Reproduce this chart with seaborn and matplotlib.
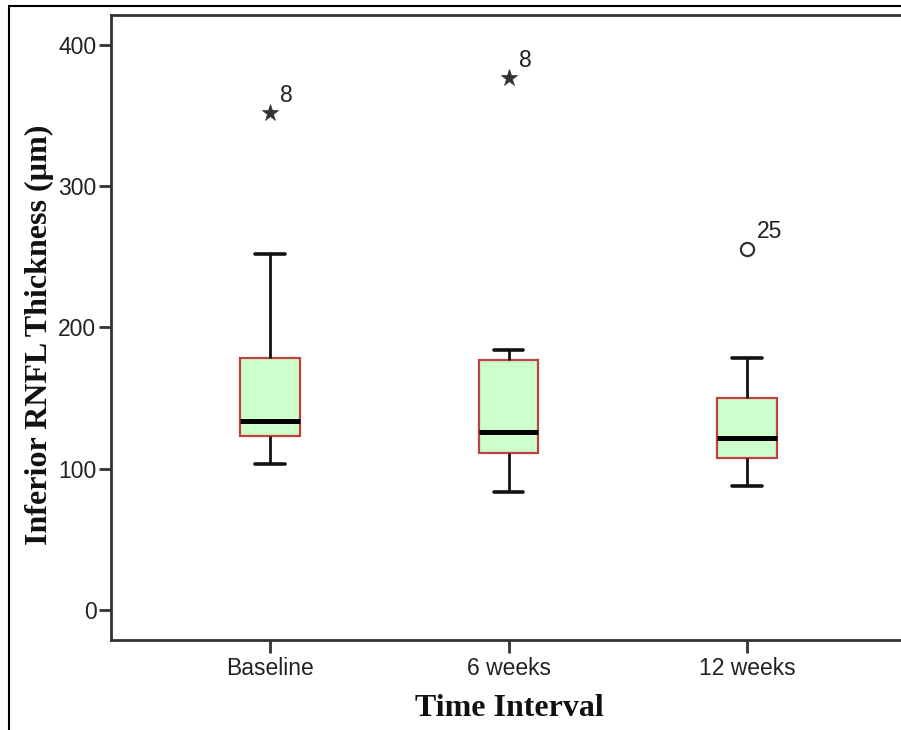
import matplotlib
matplotlib.use("Agg")
import matplotlib.pyplot as plt
from matplotlib.patches import Rectangle
import seaborn as sns
import pandas as pd

# ---- data ----
categories = ["Baseline", "6 weeks", "12 weeks"]
whisker_low = [103.4, 83.5, 88.0]
q1 = [123.2, 111.0, 107.8]
median = [133.8, 126.0, 121.8]
q3 = [178.4, 177.0, 149.9]
whisker_high = [252.0, 184.0, 178.6]

outlier_cat = ["Baseline", "6 weeks", "12 weeks"]
outlier_val = [351.9, 376.6, 255.4]
outlier_label = ["8", "8", "25"]
outlier_extreme = [True, True, False]

y_ticks = [0, 100, 200, 300, 400]
x_title = "Time Interval"
y_title = "Inferior RNFL Thickness (µm)"

# five-number summaries -> long table (whiskers at min/max with whis=(0,100))
rows = []
for i, c in enumerate(categories):
    for v in (whisker_low[i], q1[i], median[i], q3[i], whisker_high[i]):
        rows.append({"time": c, "value": v})
df = pd.DataFrame(rows)

sns.set_style("white")
plt.rcParams["font.family"] = ["Liberation Sans", "DejaVu Sans"]

W, H = 901, 730
fig = plt.figure(figsize=(W / 100, H / 100), dpi=100)
ax_left, ax_right, ax_top, ax_bottom = 111, 906, 15, 640
ax = fig.add_axes([ax_left / W, 1 - ax_bottom / H,
                   (ax_right - ax_left) / W, (ax_bottom - ax_top) / H])

fill = "#ccffcc"
edge = "#c04040"
sns.boxplot(data=df, x="time", y="value", order=categories, ax=ax,
            whis=(0, 100), width=0.25, color=fill, saturation=1,
            linecolor=edge, linewidth=1.6, showfliers=False,
            whiskerprops={"color": "#111111", "linewidth": 2.0},
            capprops={"color": "#111111", "linewidth": 2.6},
            medianprops={"color": "#000000", "linewidth": 3.6})

# outliers
ink = "#333333"
for c, v, lab, ext in zip(outlier_cat, outlier_val, outlier_label, outlier_extreme):
    xp = categories.index(c)
    if ext:
        ax.plot([xp], [v], marker="*", markersize=12.5, color=ink,
                markeredgecolor=ink, markeredgewidth=0.5, linestyle="none", zorder=5)
    else:
        ax.plot([xp], [v], marker="o", markersize=9.5, markerfacecolor="none",
                markeredgecolor=ink, markeredgewidth=1.6, linestyle="none", zorder=5)
    ax.annotate(lab, (xp, v), xytext=(7.5, 8), textcoords="offset points",
                ha="left", va="baseline", fontsize=16.5, color="#222222")

ax.set_xlim(-0.667, 2.667)
ax.set_ylim(-21.2, 421.2)
ax.set_yticks(y_ticks)
ax.set_yticklabels([str(t) for t in y_ticks])

spine_c = "#333333"
for s in ["left", "bottom", "top"]:
    ax.spines[s].set_visible(True)
    ax.spines[s].set_color(spine_c)
    ax.spines[s].set_linewidth(2.0)
ax.spines["right"].set_visible(False)

ax.tick_params(axis="both", which="major", direction="out", length=9,
               width=2.0, color=spine_c, labelsize=16.5, labelcolor="#222222",
               left=True, bottom=True, top=False, right=False)
ax.tick_params(axis="y", pad=1.5)
ax.tick_params(axis="x", pad=3)

serif = ["Liberation Serif", "DejaVu Serif"]
ax.set_xlabel(x_title, fontsize=23, fontweight="bold", family=serif, color="#111111")
ax.set_ylabel(y_title, fontsize=23, fontweight="bold", family=serif, color="#111111")
ax.xaxis.set_label_coords(509.5 / W, 1 - 716 / H, transform=fig.transFigure)
ax.xaxis.label.set_va("baseline")
ax.yaxis.set_label_coords(47 / W, 1 - 335 / H, transform=fig.transFigure)
ax.yaxis.label.set_va("baseline")

# outer frame (only left and top edges visible in the crop)
fig.add_artist(Rectangle((9 / W, -0.2), 1.2, 1.2 - 6 / H, transform=fig.transFigure,
                         fill=False, edgecolor="#000000", linewidth=1.5))

fig.savefig("out.png", dpi=100, facecolor="white")
